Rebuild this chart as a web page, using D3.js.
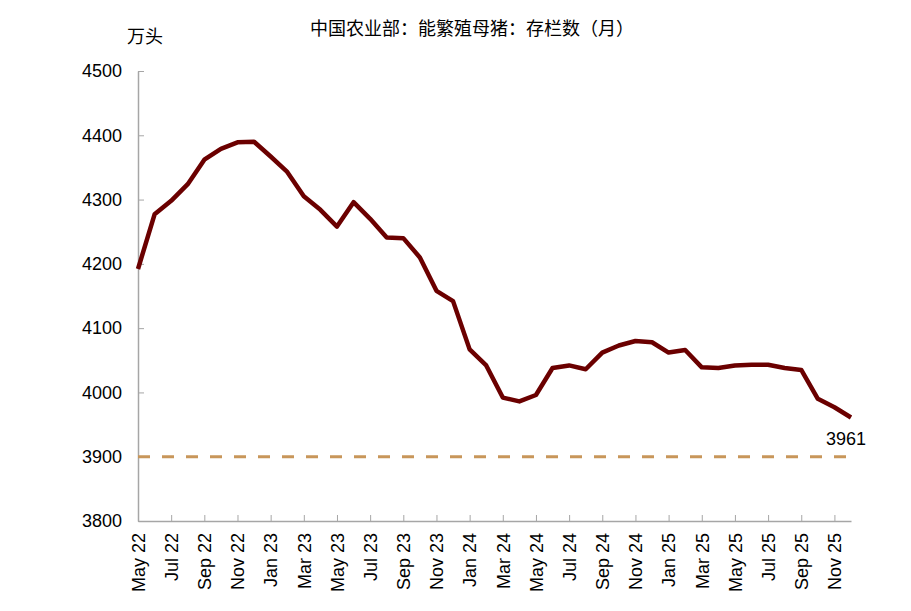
<!DOCTYPE html>
<html lang="zh">
  <head>
    <meta charset="utf-8" />
    <title>能繁母猪存栏数</title>
    <script src="https://d3js.org/d3.v7.js"></script>
    <style>
      html, body { margin: 0; padding: 0; background: #fff; overflow: hidden; }
      svg { display: block; }
      text { font-family: "Liberation Sans", Arial, sans-serif; }
      .cjk { font-family: "Noto Sans CJK SC", sans-serif; }
    </style>
  </head>
  <body>
    <div id="graph"></div>
    <script>

    // monthly labels, May 22 .. Dec 25
    var months = ["May 22","Jun 22","Jul 22","Aug 22","Sep 22","Oct 22","Nov 22","Dec 22",
      "Jan 23","Feb 23","Mar 23","Apr 23","May 23","Jun 23","Jul 23","Aug 23","Sep 23","Oct 23","Nov 23","Dec 23",
      "Jan 24","Feb 24","Mar 24","Apr 24","May 24","Jun 24","Jul 24","Aug 24","Sep 24","Oct 24","Nov 24","Dec 24",
      "Jan 25","Feb 25","Mar 25","Apr 25","May 25","Jun 25","Jul 25","Aug 25","Sep 25","Oct 25","Nov 25","Dec 25"];

    // 能繁母猪存栏 (万头)
    var sows = [4192, 4277, 4298, 4324, 4362, 4379, 4389, 4390,
      4367, 4343, 4305, 4284, 4258, 4296, 4270, 4241, 4240, 4210, 4158, 4142,
      4067, 4042, 3992, 3986, 3996, 4038, 4042, 4036, 4062, 4073, 4080, 4078,
      4062, 4066, 4039, 4038, 4042, 4043, 4043, 4038, 4035, 3990, 3977, 3961];

    var yTicks = [3800, 3900, 4000, 4100, 4200, 4300, 4400, 4500];
    var refLevel = 3900;

    var w = 911, h = 611;
    var margin = {top: 71, right: 60, bottom: 90, left: 138};
    var innerWidth = w - margin.left - margin.right;
    var innerHeight = h - margin.top - margin.bottom;

    var svg = d3.select("#graph")
      .append("svg")
        .attr("width", w)
        .attr("height", h);

    var g = svg.append("g")
      .attr("transform", `translate(${margin.left},${margin.top})`);

    var x = d3.scalePoint()
      .domain(months)
      .range([0, innerWidth]);

    var y = d3.scaleLinear()
      .domain([3800, 4500])
      .range([innerHeight, 0]);

    // x axis, ticks every two months pointing inward
    var xAxis = g.append("g")
      .attr("transform", `translate(0,${innerHeight})`)
      .call(d3.axisBottom(x)
        .tickValues(months.filter((d, i) => i % 2 === 0))
        .tickSizeInner(-6)
        .tickSizeOuter(0));
    xAxis.select(".domain").attr("stroke", "#a6a6a6").attr("stroke-width", 1.5);
    xAxis.selectAll(".tick line").attr("stroke", "#a6a6a6");
    xAxis.selectAll(".tick text")
      .attr("font-size", 18)
      .attr("fill", "#000")
      .attr("text-anchor", "end")
      .attr("transform", "rotate(-90)")
      .attr("x", -12)
      .attr("y", 0)
      .attr("dy", "0.35em");

    // y axis
    var yAxis = g.append("g")
      .call(d3.axisLeft(y)
        .tickValues(yTicks)
        .tickFormat(d3.format("d"))
        .tickSizeInner(-6)
        .tickSizeOuter(0)
        .tickPadding(16));
    yAxis.select(".domain").attr("stroke", "#a6a6a6").attr("stroke-width", 1.5);
    yAxis.selectAll(".tick line").attr("stroke", "#a6a6a6");
    yAxis.selectAll(".tick text")
      .attr("font-size", 18)
      .attr("fill", "#000");

    // reference line
    g.append("line")
      .attr("x1", x(months[0]))
      .attr("x2", x(months[months.length - 1]))
      .attr("y1", y(refLevel))
      .attr("y2", y(refLevel))
      .attr("stroke", "#c8965a")
      .attr("stroke-width", 3)
      .attr("stroke-dasharray", "12,12");

    // series line
    var line = d3.line()
      .x((d, i) => x(months[i]))
      .y(d => y(d));

    g.append("path")
      .datum(sows)
      .attr("fill", "none")
      .attr("stroke", "#6b0000")
      .attr("stroke-width", 4.5)
      .attr("stroke-linejoin", "round")
      .attr("d", line);

    // last value label
    var last = sows.length - 1;
    g.append("text")
      .attr("x", x(months[last]) + 15)
      .attr("y", y(sows[last]) + 27)
      .attr("text-anchor", "end")
      .attr("font-size", 18)
      .text(sows[last]);

    // title and unit
    svg.append("text")
      .attr("class", "cjk")
      .attr("x", 472)
      .attr("y", 35)
      .attr("text-anchor", "middle")
      .attr("font-size", 18)
      .text("中国农业部：能繁殖母猪：存栏数（月）");

    svg.append("text")
      .attr("class", "cjk")
      .attr("x", 127)
      .attr("y", 43)
      .attr("font-size", 18)
      .text("万头");

    </script>
  </body>
</html>
